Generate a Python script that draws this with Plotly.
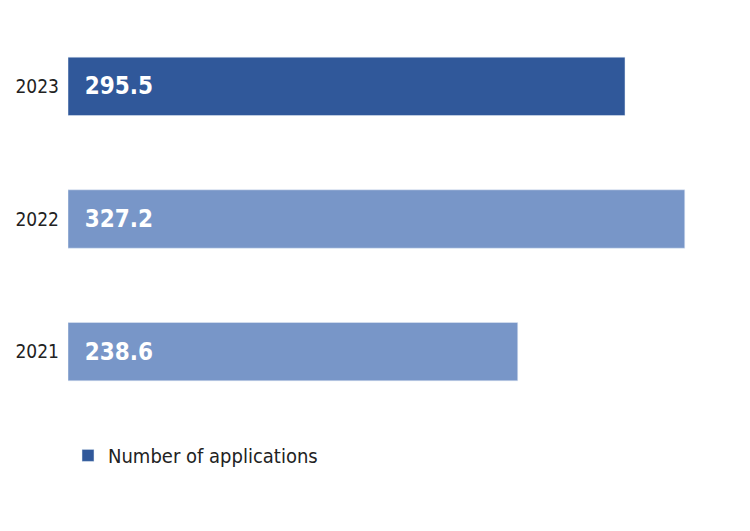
import plotly.graph_objects as go

years = ["2021", "2022", "2023"]
values = [238.6, 327.2, 295.5]
colors = ["#7896C8", "#7896C8", "#30589A"]

fig = go.Figure()
fig.add_trace(go.Bar(
    y=years, x=values, orientation="h", marker_color=colors,
    text=[f"{v:.1f}" for v in values], textposition="inside", insidetextanchor="start",
    textfont=dict(color="white", size=24, family="DejaVu Sans Condensed, DejaVu Sans"),
    texttemplate="  <b>%{text}</b>", showlegend=False, width=0.44, hoverinfo="skip",
))
fig.add_trace(go.Bar(y=[None], x=[None], orientation="h", marker_color="#30589A",
                     name="Number of applications", showlegend=True))
fig.update_layout(
    width=750, height=531, plot_bgcolor="white", paper_bgcolor="white",
    margin=dict(l=60, r=2, t=11.5, b=120.5),
    xaxis=dict(range=[0, 365], visible=False),
    yaxis=dict(categoryorder="array", categoryarray=years, range=[-0.5, 2.5],
               tickfont=dict(size=19, color="#222", family="DejaVu Sans Condensed, DejaVu Sans"),
               ticks="", showgrid=False, ticklabelstandoff=8),
    legend=dict(x=0, y=-0.094, xanchor="left", yanchor="middle", orientation="h",
                font=dict(size=20, color="#222", family="DejaVu Sans Condensed, DejaVu Sans")),
    barmode="overlay",
)
fig.write_html("out.html")
